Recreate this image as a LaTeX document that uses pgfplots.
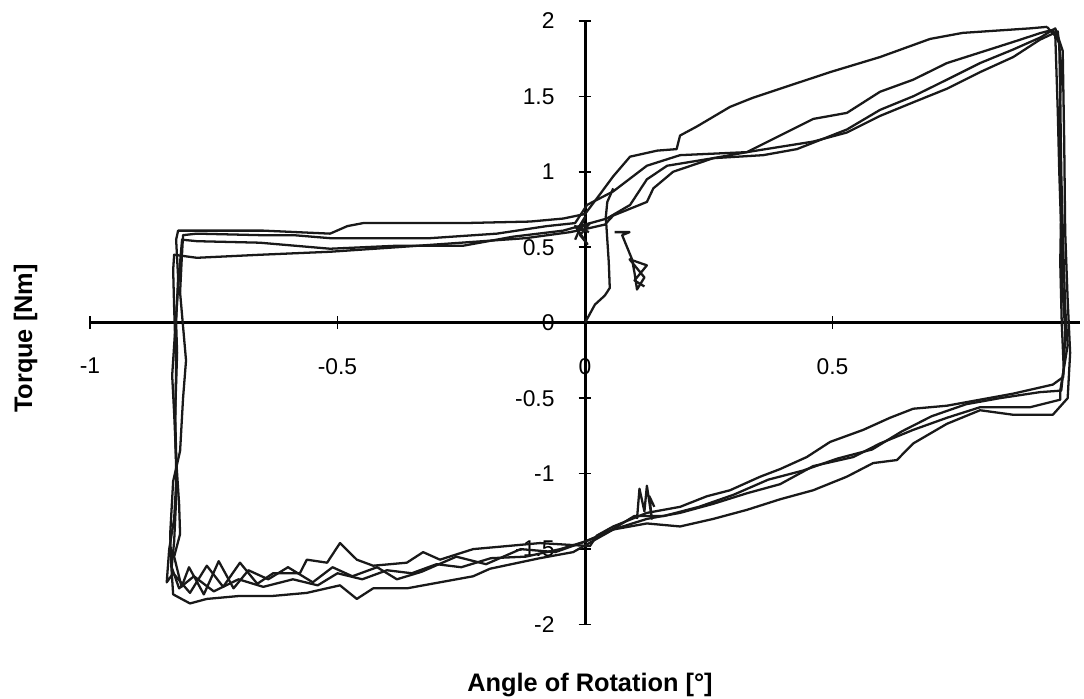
\documentclass[border=0pt]{standalone}
\usepackage{pgfplots}
\pgfplotsset{compat=1.18}
\usepackage{fontspec}
\setmainfont{Liberation Sans}
\begin{document}
\begin{tikzpicture}
\begin{axis}[
    scale only axis,
    width=13.73cm, height=8.373cm,
    axis lines=middle,
    axis line style={-, line width=1.2pt, black},
    xmin=-1, xmax=1.0, ymin=-2, ymax=2,
    enlargelimits=false,
    clip=false,
    xtick={-1,-0.5,0,0.5},
    ytick={-2,-1.5,-1,-0.5,0,0.5,1,1.5,2},
    hide obscured x ticks=false,
    hide obscured y ticks=false,
    tick align=center,
    major tick length=5pt,
    tick style={black, line width=0.6pt},
    /pgf/number format/assume math mode=true,
    ticklabel style={font=\fontsize{9}{10}\selectfont},
    xticklabel style={anchor=north, yshift=-8pt},
    yticklabel style={anchor=east, xshift=-6pt},
    loop/.style={black!90, line width=0.9pt, line join=round, mark=none},
]
% cycle 1
\addplot[loop] coordinates {
(0.933,1.96) (0.950,1.90) (0.952,1.70) (0.955,1.40) (0.958,1.00) (0.962,0.60) (0.965,0.20) (0.970,-0.05) (0.968,-0.25) (0.966,-0.36)
(0.945,-0.41) (0.865,-0.47) (0.798,-0.51) (0.731,-0.55) (0.663,-0.57) (0.616,-0.63) (0.562,-0.71) (0.495,-0.79) (0.448,-0.89) (0.394,-0.97) (0.354,-1.02) (0.293,-1.11) (0.246,-1.15) (0.192,-1.22) (0.125,-1.26) (0.057,-1.35) (0.024,-1.41)
(0.010,-1.48) (-0.091,-1.46) (-0.158,-1.48) (-0.226,-1.50) (-0.293,-1.57) (-0.327,-1.52) (-0.360,-1.59) (-0.428,-1.61) (-0.461,-1.57) (-0.495,-1.46) (-0.521,-1.59) (-0.562,-1.57) (-0.576,-1.66) (-0.630,-1.66) (-0.662,-1.73) (-0.697,-1.59) (-0.731,-1.75) (-0.764,-1.61) (-0.798,-1.79) (-0.832,-1.66) (-0.845,-1.72)
(-0.840,-1.50) (-0.830,-1.30) (-0.825,-1.00) (-0.828,-0.60) (-0.824,-0.20) (-0.826,0.00) (-0.822,0.30) (-0.826,0.55) (-0.822,0.61)
(-0.784,0.61) (-0.650,0.61) (-0.515,0.59) (-0.480,0.64) (-0.448,0.66) (-0.246,0.66) (-0.111,0.67) (-0.044,0.69) (0.000,0.72)
(0.030,0.85) (0.057,0.97) (0.091,1.10) (0.146,1.14) (0.185,1.15) (0.192,1.24) (0.226,1.30) (0.293,1.43) (0.339,1.49) (0.394,1.55) (0.495,1.66) (0.596,1.76) (0.697,1.88) (0.763,1.92) (0.899,1.95) (0.933,1.96)
};
% cycle 2
\addplot[loop] coordinates {
(0.921,1.92) (0.945,1.94) (0.958,1.85) (0.960,1.50) (0.962,1.00) (0.966,0.50) (0.970,0.10) (0.975,-0.15) (0.960,-0.45) (0.960,-0.51)
(0.899,-0.56) (0.798,-0.56) (0.731,-0.63) (0.663,-0.71) (0.596,-0.80) (0.542,-0.89) (0.461,-0.95) (0.394,-1.07) (0.327,-1.13) (0.259,-1.20) (0.192,-1.26) (0.125,-1.30) (0.057,-1.37) (-0.024,-1.52)
(-0.091,-1.56) (-0.192,-1.63) (-0.226,-1.68) (-0.293,-1.72) (-0.360,-1.76) (-0.428,-1.76) (-0.461,-1.83) (-0.495,-1.74) (-0.562,-1.79) (-0.630,-1.81) (-0.697,-1.81) (-0.764,-1.83) (-0.798,-1.86) (-0.832,-1.80)
(-0.836,-1.60) (-0.838,-1.40) (-0.832,-1.05) (-0.818,-0.85) (-0.812,-0.50) (-0.806,-0.25) (-0.810,-0.10) (-0.818,0.20) (-0.815,0.40) (-0.812,0.58)
(-0.784,0.59) (-0.657,0.58) (-0.589,0.58) (-0.515,0.56) (-0.313,0.56) (-0.178,0.59) (-0.077,0.64) (-0.020,0.66)
(0.004,0.78) (0.057,0.87) (0.125,1.04) (0.192,1.11) (0.327,1.13) (0.394,1.24) (0.461,1.35) (0.529,1.39) (0.596,1.53) (0.663,1.61) (0.731,1.72) (0.798,1.79) (0.865,1.86) (0.921,1.92)
};
% cycle 3
\addplot[loop] coordinates {
(0.920,1.89) (0.950,1.95) (0.965,1.80) (0.968,1.20) (0.970,0.60) (0.975,0.15) (0.980,-0.20) (0.975,-0.50) (0.945,-0.61)
(0.865,-0.61) (0.798,-0.58) (0.731,-0.67) (0.663,-0.80) (0.630,-0.91) (0.582,-0.93) (0.529,-1.02) (0.461,-1.11) (0.394,-1.17) (0.327,-1.24) (0.259,-1.30) (0.192,-1.35) (0.125,-1.33) (0.057,-1.37) (0.000,-1.45)
(-0.060,-1.52) (-0.130,-1.50) (-0.200,-1.60) (-0.260,-1.55) (-0.330,-1.65) (-0.380,-1.70) (-0.420,-1.62) (-0.470,-1.68) (-0.510,-1.62) (-0.550,-1.72) (-0.600,-1.62) (-0.640,-1.70) (-0.680,-1.64) (-0.710,-1.76) (-0.740,-1.58) (-0.770,-1.80) (-0.800,-1.62) (-0.815,-1.75) (-0.830,-1.55)
(-0.818,-1.40) (-0.820,-1.20) (-0.826,-0.90) (-0.830,-0.60) (-0.834,-0.35) (-0.830,-0.15) (-0.825,0.10) (-0.818,0.40) (-0.814,0.55)
(-0.784,0.54) (-0.657,0.53) (-0.515,0.49) (-0.380,0.51) (-0.246,0.51) (-0.145,0.57) (-0.044,0.61) (0.000,0.65)
(0.044,0.69) (0.091,0.78) (0.125,0.95) (0.166,1.04) (0.259,1.09) (0.360,1.11) (0.428,1.15) (0.529,1.28) (0.596,1.41) (0.663,1.50) (0.731,1.61) (0.798,1.72) (0.865,1.81) (0.920,1.89)
};
% cycle 4
\addplot[loop] coordinates {
(0.919,1.875) (0.955,1.93) (0.962,1.70) (0.958,1.30) (0.962,0.80) (0.960,0.40) (0.963,0.00) (0.967,-0.30) (0.962,-0.45)
(0.919,-0.46) (0.838,-0.50) (0.770,-0.54) (0.700,-0.62) (0.640,-0.72) (0.580,-0.84) (0.510,-0.90) (0.440,-0.98) (0.370,-1.04) (0.300,-1.14) (0.230,-1.22) (0.160,-1.28) (0.100,-1.28) (0.040,-1.40) (0.000,-1.45)
(-0.050,-1.50) (-0.120,-1.55) (-0.190,-1.56) (-0.250,-1.62) (-0.300,-1.60) (-0.350,-1.66) (-0.400,-1.64) (-0.450,-1.70) (-0.500,-1.66) (-0.540,-1.74) (-0.590,-1.70) (-0.650,-1.75) (-0.700,-1.70) (-0.750,-1.78) (-0.790,-1.68) (-0.820,-1.76) (-0.835,-1.62)
(-0.830,-1.45) (-0.825,-1.10) (-0.828,-0.70) (-0.826,-0.30) (-0.830,0.10) (-0.832,0.35) (-0.830,0.45)
(-0.784,0.43) (-0.657,0.45) (-0.515,0.47) (-0.380,0.50) (-0.250,0.53) (-0.120,0.56) (-0.030,0.60) (0.000,0.62)
(0.040,0.65) (0.057,0.71) (0.125,0.80) (0.138,0.89) (0.178,1.00) (0.259,1.09) (0.327,1.13) (0.461,1.20) (0.529,1.26) (0.596,1.37) (0.663,1.46) (0.731,1.55) (0.798,1.66) (0.865,1.76) (0.919,1.875)
};
% initial loading
\addplot[loop] coordinates {
(0,0) (0.005,0.03) (0.02,0.12) (0.04,0.18) (0.05,0.23) (0.048,0.40) (0.045,0.55) (0.042,0.70) (0.045,0.80) (0.057,0.89)
};
% dense spots
\addplot[loop] coordinates {
(-0.02,0.55) (0.0,0.70) (-0.015,0.62) (0.01,0.66) (-0.01,0.58) (0.005,0.52) (-0.02,0.64) (0.008,0.60)
};
\addplot[loop] coordinates {
(0.06,0.60) (0.09,0.60) (0.075,0.58) (0.085,0.50) (0.095,0.42) (0.10,0.33) (0.105,0.22) (0.12,0.30) (0.09,0.42) (0.125,0.38) (0.10,0.28) (0.12,0.24)
};
\addplot[loop] coordinates {
(0.105,-1.30) (0.11,-1.10) (0.12,-1.25) (0.125,-1.08) (0.135,-1.30) (0.13,-1.15) (0.14,-1.22)
};
\node[rotate=90, font=\fontsize{10}{12}\selectfont\bfseries] at (axis cs:-1.13,-0.105) {Torque [Nm]};
\node[font=\fontsize{10}{12}\selectfont\bfseries] at (axis cs:0.01,-2.40) {Angle of Rotation [°]};
\coordinate (bbsw) at (axis cs:-1.1818,-2.493);
\coordinate (bbne) at (axis cs:1.008,2.138);
\end{axis}
\pgfresetboundingbox
\path[use as bounding box] (bbsw) rectangle (bbne);
\end{tikzpicture}
\end{document}
